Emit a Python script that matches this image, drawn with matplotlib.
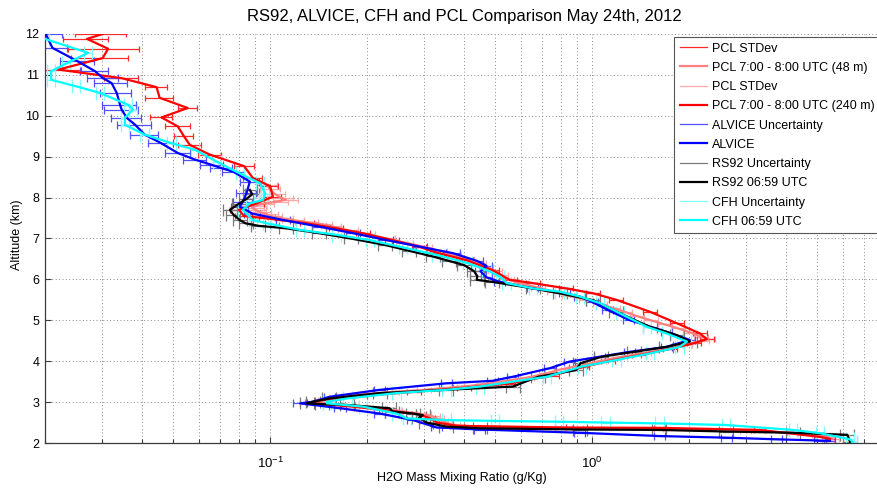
import matplotlib
matplotlib.use("Agg")
import numpy as np
import matplotlib.pyplot as plt
from matplotlib.lines import Line2D
from matplotlib.ticker import LogLocator, NullFormatter, FixedLocator

plt.rcParams['font.family'] = ['Liberation Sans', 'DejaVu Sans']

# ---------------- data (altitude in km, mixing ratio in g/kg) ----------------
# PCL lidar, 48 m resolution, 7:00 - 8:00 UTC
pcl48_alt = [8.30, 8.20, 8.10, 8.00, 7.95, 7.90, 7.85, 7.80, 7.75, 7.70,
             7.65, 7.60, 7.55, 7.50, 7.45, 7.40, 7.35, 7.30, 7.20, 7.10,
             7.00, 6.90, 6.80, 6.70, 6.60, 6.50, 6.40, 6.30, 6.20, 6.10,
             6.00, 5.90, 5.80, 5.70, 5.60, 5.50, 5.40, 5.30, 5.20, 5.10,
             5.00, 4.90, 4.80, 4.70, 4.60, 4.55, 4.50, 4.40, 4.30, 4.20,
             4.10, 4.00, 3.90, 3.80, 3.70, 3.60, 3.50, 3.40, 3.30, 3.25,
             3.20, 3.15, 3.10, 3.05, 3.00, 2.95, 2.90, 2.85, 2.80, 2.75,
             2.70, 2.65, 2.60, 2.55, 2.50, 2.45, 2.40, 2.36, 2.34, 2.30,
             2.25, 2.20, 2.15, 2.10, 2.05]
pcl48_val = [0.098, 0.100, 0.103, 0.108, 0.112, 0.105, 0.095, 0.090, 0.088, 0.090,
             0.093, 0.097, 0.100, 0.108, 0.118, 0.130, 0.145, 0.155, 0.175, 0.200,
             0.230, 0.262, 0.300, 0.335, 0.370, 0.410, 0.445, 0.470, 0.500, 0.520,
             0.545, 0.600, 0.680, 0.760, 0.850, 0.960, 1.06, 1.16, 1.27, 1.38,
             1.52, 1.68, 1.85, 2.02, 2.18, 2.30, 2.20, 1.95, 1.70, 1.45,
             1.22, 1.05, 0.93, 0.80, 0.72, 0.63, 0.52, 0.42, 0.30, 0.24,
             0.20, 0.175, 0.160, 0.148, 0.135, 0.160, 0.190, 0.220, 0.245, 0.270,
             0.300, 0.320, 0.330, 0.340, 0.350, 0.370, 0.420, 0.90, 1.60, 3.00,
             4.20, 5.00, 5.40, 5.60, 5.40]
pcl48_std_pct = [7, 7, 8, 9, 9, 8, 8, 9, 9, 8,
                 8, 9, 9, 9, 8, 8, 7, 7, 7, 6,
                 6, 6, 6, 6, 6, 5, 5, 5, 5, 5,
                 5, 5, 5, 5, 5, 5, 5, 5, 5, 5,
                 5, 5, 5, 5, 5, 5, 5, 5, 5, 5,
                 5, 5, 5, 5, 5, 5, 5, 5, 5, 5,
                 5, 5, 5, 5, 5, 5, 5, 5, 5, 5,
                 5, 5, 5, 5, 5, 5, 5, 4, 4, 4,
                 4, 4, 4, 4, 4]

# PCL lidar, 240 m resolution, 7:00 - 8:00 UTC
pcl240_alt = [12.00, 11.88, 11.64, 11.41, 11.13, 10.92, 10.70, 10.44, 10.19, 9.96,
              9.74, 9.50, 9.29, 9.05, 8.77, 8.48, 8.28, 8.02, 7.85, 7.70,
              7.55, 7.49, 7.37, 7.25, 7.13, 6.96, 6.80, 6.65, 6.47, 6.23,
              5.99, 5.91, 5.78, 5.66, 5.50, 5.21, 4.93, 4.68, 4.54, 4.44,
              4.30, 4.15, 4.00, 3.85, 3.65, 3.45, 3.35, 3.25, 3.15, 3.05,
              2.98, 2.90, 2.80, 2.70, 2.62, 2.50, 2.42, 2.38, 2.37, 2.32,
              2.15, 2.10]
pcl240_val = [0.0302, 0.0270, 0.0314, 0.0302, 0.0220, 0.0346, 0.0444, 0.0454, 0.0555, 0.0460,
              0.0517, 0.0540, 0.0563, 0.065, 0.083, 0.0884, 0.100, 0.102, 0.090, 0.080,
              0.083, 0.098, 0.130, 0.160, 0.194, 0.240, 0.290, 0.330, 0.407, 0.490,
              0.555, 0.654, 0.830, 1.007, 1.19, 1.51, 1.83, 2.16, 2.27, 2.07,
              1.75, 1.40, 1.12, 0.93, 0.75, 0.55, 0.40, 0.28, 0.19, 0.145,
              0.130, 0.175, 0.23, 0.29, 0.31, 0.33, 0.38, 0.80, 1.62, 3.31,
              5.10, 5.47]
pcl240_std_pct = [18, 16, 25, 20, 18, 12, 8, 10, 7, 8,
                  9, 7, 8, 8, 7, 7, 6, 6, 6, 6,
                  6, 6, 5, 5, 5, 5, 5, 5, 5, 5,
                  5, 5, 5, 5, 5, 5, 5, 5, 5, 5,
                  5, 5, 5, 5, 5, 5, 5, 5, 5, 5,
                  5, 5, 5, 5, 5, 5, 5, 4, 4, 4,
                  4, 4]

# ALVICE
alvice_alt = [12.00, 11.66, 11.33, 11.09, 10.92, 10.80, 10.56, 10.27, 10.15, 9.95,
              9.78, 9.54, 9.33, 9.09, 8.93, 8.80, 8.72, 8.63, 8.39, 8.11,
              7.90, 7.78, 7.61, 7.45, 7.29, 7.13, 6.96, 6.80, 6.64, 6.45,
              6.33, 6.20, 6.05, 5.94, 5.78, 5.66, 5.58, 5.45, 5.25, 5.01,
              4.72, 4.52, 4.35, 4.23, 4.11, 3.99, 3.83, 3.62, 3.52, 3.46,
              3.30, 3.13, 3.01, 2.97, 2.85, 2.72, 2.56, 2.38, 2.33, 2.25,
              2.17, 2.13, 2.09, 2.06, 2.05]
alvice_val = [0.0201, 0.0211, 0.0253, 0.0286, 0.0303, 0.0322, 0.0334, 0.0342, 0.0346, 0.0359,
              0.0381, 0.0408, 0.0459, 0.0517, 0.0584, 0.0659, 0.0707, 0.077, 0.0865, 0.0845,
              0.0822, 0.0805, 0.088, 0.110, 0.142, 0.181, 0.230, 0.292, 0.370, 0.44,
              0.47, 0.45, 0.47, 0.517, 0.654, 0.82, 0.916, 1.00, 1.12, 1.30,
              1.70, 2.01, 1.70, 1.31, 1.057, 0.85, 0.74, 0.567, 0.490, 0.353,
              0.219, 0.153, 0.136, 0.124, 0.165, 0.219, 0.278, 0.329, 0.448, 0.916,
              1.62, 2.61, 3.74, 5.10, 5.47]
alvice_unc_pct = [12, 11, 12, 10, 11, 12, 11, 12, 12, 11,
                  12, 10, 9, 9, 8, 8, 8, 8, 7, 7,
                  7, 6, 6, 5, 5, 5, 5, 5, 5, 4,
                  4, 4, 4, 4, 4, 4, 4, 4, 4, 4,
                  4, 4, 4, 4, 4, 4, 4, 4, 4, 4,
                  4, 4, 5, 5, 4, 4, 4, 4, 4, 4,
                  4, 4, 4, 4, 4]

# RS92 radiosonde, 06:59 UTC
rs92_alt = [8.19, 8.08, 7.97, 7.85, 7.70, 7.58, 7.45, 7.37, 7.31, 7.25,
            7.13, 7.00, 6.84, 6.70, 6.56, 6.45, 6.35, 6.20, 6.08, 5.99,
            5.94, 5.78, 5.66, 5.49, 5.21, 4.84, 4.64, 4.48, 4.35, 4.23,
            4.11, 3.95, 3.78, 3.62, 3.38, 3.30, 3.22, 3.09, 3.01, 2.97,
            2.95, 2.93, 2.85, 2.77, 2.72, 2.68, 2.62, 2.50, 2.40, 2.36,
            2.33, 2.32, 2.28, 2.25, 2.20, 2.03]
rs92_val = [0.0865, 0.088, 0.0845, 0.080, 0.075, 0.077, 0.0805, 0.084, 0.092, 0.112,
            0.142, 0.178, 0.228, 0.27, 0.32, 0.36, 0.40, 0.43, 0.44, 0.438,
            0.49, 0.654, 0.793, 1.01, 1.19, 1.51, 1.83, 2.01, 1.70, 1.35,
            1.07, 0.92, 0.89, 0.68, 0.567, 0.353, 0.219, 0.153, 0.136, 0.130,
            0.145, 0.174, 0.235, 0.240, 0.278, 0.298, 0.290, 0.306, 0.353, 0.448,
            0.916, 1.62, 2.61, 4.20, 6.20, 6.32]
rs92_unc_pct = 5

# CFH frost point hygrometer, 06:59 UTC
cfh_alt = [11.88, 11.54, 11.28, 11.09, 10.88, 10.72, 10.56, 10.27, 10.15, 9.95,
           9.78, 9.54, 9.33, 9.17, 8.88, 8.59, 8.35, 8.10, 7.94, 7.86,
           7.70, 7.45, 7.37, 7.21, 7.09, 6.96, 6.78, 6.60, 6.40, 6.23,
           6.07, 5.91, 5.78, 5.70, 5.58, 5.42, 5.17, 4.84, 4.68, 4.48,
           4.35, 4.19, 4.03, 3.87, 3.62, 3.50, 3.38, 3.30, 3.22, 3.09,
           3.01, 2.97, 2.89, 2.72, 2.60, 2.56, 2.54, 2.52, 2.50, 2.48,
           2.44, 2.32, 2.24, 2.09, 2.02]
cfh_val = [0.0200, 0.0272, 0.0233, 0.0209, 0.0209, 0.0250, 0.0296, 0.0362, 0.0375, 0.0354,
           0.0354, 0.0408, 0.0494, 0.0584, 0.0683, 0.0805, 0.0930, 0.0966, 0.0950, 0.0865,
           0.0822, 0.0884, 0.0980, 0.124, 0.161, 0.204, 0.259, 0.329, 0.41, 0.47,
           0.517, 0.543, 0.654, 0.793, 0.916, 1.057, 1.22, 1.48, 1.70, 1.97,
           1.87, 1.51, 1.19, 0.93, 0.723, 0.567, 0.448, 0.353, 0.247, 0.174,
           0.150, 0.150, 0.194, 0.247, 0.266, 0.353, 0.50, 0.79, 1.10, 1.62,
           2.61, 4.20, 5.10, 6.32, 6.45]
cfh_unc_pct = 3

legend_labels = ["PCL STDev", "PCL 7:00 - 8:00 UTC (48 m)", "PCL STDev",
                 "PCL 7:00 - 8:00 UTC (240 m)", "ALVICE Uncertainty", "ALVICE",
                 "RS92 Uncertainty", "RS92 06:59 UTC", "CFH Uncertainty", "CFH 06:59 UTC"]

# ---------------- colours ----------------
C_PCL48_ERR = "#ffa8a8"
C_PCL48 = "#ff8080"
C_PCL240_ERR = "#ff2a2a"
C_PCL240 = "#ff0000"
C_ALV_ERR = "#5050ff"
C_ALV = "#0000ff"
C_RS_ERR = "#7a7a7a"
C_RS = "#000000"
C_CFH_ERR = "#80ffff"
C_CFH = "#00ffff"

fig = plt.figure(figsize=(8.78, 4.94), dpi=100)
L, R, B, T = 45, 883, 443, 34
ax = fig.add_axes([L / 878, 1 - B / 494, (R - L) / 878, (B - T) / 494])


def profile(alt, val, pct, ecol, lcol, cap, lw=1.6, elw=0.9):
    alt = np.asarray(alt)
    val = np.asarray(val)
    err = val * np.asarray(pct, dtype=float) / 100.0
    ax.errorbar(val, alt, xerr=err, fmt='none', ecolor=ecol, elinewidth=elw,
                capsize=cap, capthick=elw, zorder=2)
    ax.plot(val, alt, color=lcol, lw=lw, zorder=3)


profile(pcl48_alt, pcl48_val, pcl48_std_pct, C_PCL48_ERR, C_PCL48, 2.2)
profile(pcl240_alt, pcl240_val, pcl240_std_pct, C_PCL240_ERR, C_PCL240, 2.2)
profile(alvice_alt, alvice_val, alvice_unc_pct, C_ALV_ERR, C_ALV, 3.0)
profile(rs92_alt, rs92_val, [rs92_unc_pct] * len(rs92_alt), C_RS_ERR, C_RS, 4.0)
profile(cfh_alt, cfh_val, [cfh_unc_pct] * len(cfh_alt), C_CFH_ERR, C_CFH, 4.8)

ax.set_xscale('log')
ax.set_xlim(0.02, 8.0)
ax.set_ylim(2, 12)
ax.yaxis.set_major_locator(FixedLocator(range(2, 13)))
ax.xaxis.set_major_locator(LogLocator(base=10))
ax.xaxis.set_minor_locator(LogLocator(base=10, subs=np.arange(2, 10)))
ax.xaxis.set_minor_formatter(NullFormatter())

ax.grid(True, which='both', axis='x', linestyle=(0, (1, 2.5)), color='#8a8a8a', lw=0.7)
ax.grid(True, which='major', axis='y', linestyle=(0, (1, 2.5)), color='#8a8a8a', lw=0.7)
ax.set_axisbelow(True)

for s in ('top', 'right'):
    ax.spines[s].set_visible(False)
for s in ('left', 'bottom'):
    ax.spines[s].set_color('#3a3a3a')
    ax.spines[s].set_linewidth(0.9)

ax.tick_params(which='both', direction='in', top=False, right=False,
               colors='#3a3a3a', labelcolor='black', labelsize=9)
ax.tick_params(which='major', length=4, width=0.8)
ax.tick_params(which='minor', length=3, width=0.8)
ax.tick_params(axis='x', which='major', pad=9, labelsize=9.5)
ax.tick_params(axis='y', which='major', pad=4)

fig.text(464 / 878, 1 - 17 / 494, "RS92, ALVICE, CFH and PCL Comparison May 24th, 2012",
         ha='center', va='center', fontsize=12)
fig.text(462 / 878, 1 - 478 / 494, "H2O Mass Mixing Ratio (g/Kg)",
         ha='center', va='center', fontsize=9)
fig.text(17 / 878, 1 - 235 / 494, "Altitude (km)", rotation=90,
         ha='center', va='center', fontsize=9)

handles = [
    Line2D([], [], color=C_PCL240_ERR, lw=0.9),
    Line2D([], [], color=C_PCL48, lw=1.6),
    Line2D([], [], color=C_PCL48_ERR, lw=0.9),
    Line2D([], [], color=C_PCL240, lw=1.6),
    Line2D([], [], color=C_ALV_ERR, lw=0.9),
    Line2D([], [], color=C_ALV, lw=1.6),
    Line2D([], [], color=C_RS_ERR, lw=0.9),
    Line2D([], [], color=C_RS, lw=1.6),
    Line2D([], [], color=C_CFH_ERR, lw=0.9),
    Line2D([], [], color=C_CFH, lw=1.6),
]
leg = ax.legend(handles, legend_labels, loc='upper right',
                bbox_to_anchor=(880 / 878, 1 - 37 / 494), bbox_transform=fig.transFigure,
                fontsize=9, frameon=True, fancybox=False, framealpha=1,
                edgecolor='#555555', borderaxespad=0, handlelength=2.2,
                labelspacing=0.58, handletextpad=0.35, borderpad=0.45)
leg.get_frame().set_linewidth(0.8)
leg.set_zorder(10)

fig.savefig("out.png", dpi=100)
